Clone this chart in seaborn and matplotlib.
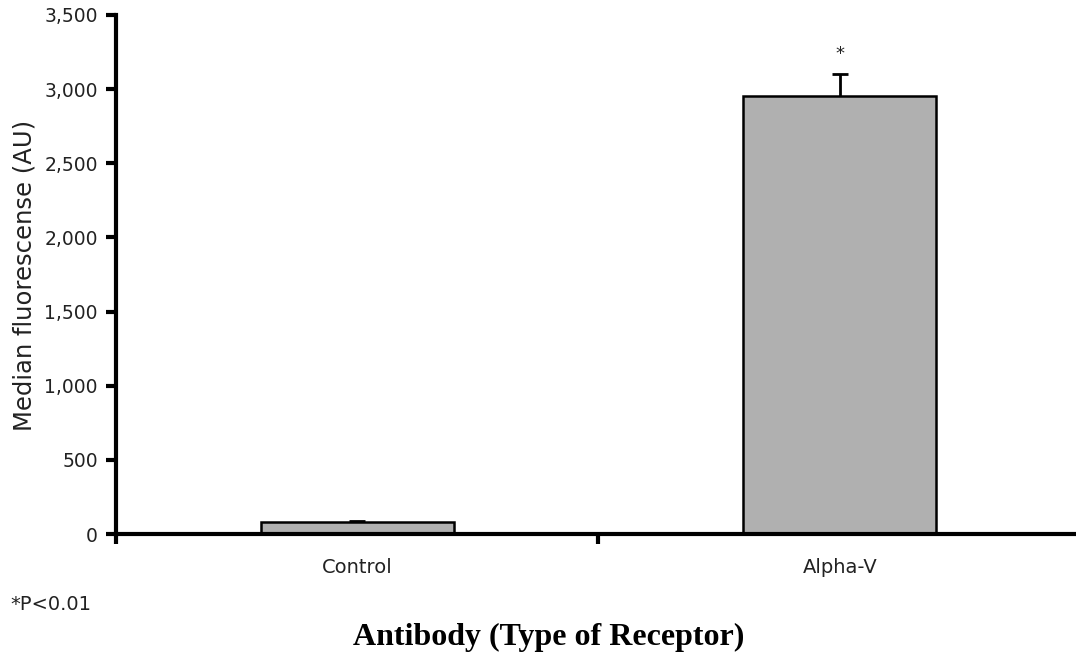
import matplotlib
matplotlib.use("Agg")
import matplotlib.pyplot as plt
import seaborn as sns
import pandas as pd
from matplotlib.ticker import FuncFormatter, FixedLocator

# Median fluorescence per antibody
antibodies = ["Control", "Alpha-V"]
median_fluorescence = [80, 2955]
sem_upper = [5, 150]
significance = ["", "*"]

df = pd.DataFrame({"Antibody": antibodies, "Fluorescence": median_fluorescence})

sns.set_style("white")
plt.rcParams["font.family"] = ["DejaVu Sans"]

fig = plt.figure(figsize=(10.76, 6.56), dpi=100)
ax = fig.add_axes([116 / 1076, 122 / 656, 965 / 1076, 519 / 656])

sns.barplot(data=df, x="Antibody", y="Fluorescence", color="#b0b0b0",
            edgecolor="black", linewidth=1.8, width=0.4, saturation=1,
            errorbar=None, ax=ax)

# Upper error bars only: stem from the bar top plus a cap at the end
xs = list(range(len(antibodies)))
tops = [v + e for v, e in zip(median_fluorescence, sem_upper)]
ax.errorbar(xs, median_fluorescence, yerr=[[0] * len(sem_upper), sem_upper],
            fmt="none", ecolor="black", elinewidth=2, capsize=0, zorder=5)
ax.plot(xs, tops, linestyle="none", marker="_", markersize=12,
        markeredgewidth=2, color="black", zorder=5)

for i, (t, s) in enumerate(zip(tops, significance)):
    if s:
        ax.text(i, t + 130, s, ha="center", va="center", fontsize=13,
                color="#222222")

ax.set_xlim(-0.5, 1.5)
ax.set_ylim(0, 3500)
ax.set_yticks(range(0, 3501, 500))
ax.yaxis.set_major_formatter(FuncFormatter(lambda v, p: f"{int(v):,}"))

ax.xaxis.set_minor_locator(FixedLocator([-0.5, 0.5, 1.5]))
ax.tick_params(axis="x", which="major", length=0, pad=17, labelsize=14,
               labelcolor="#222222")
ax.tick_params(axis="x", which="minor", bottom=True, length=7, width=3,
               direction="out", color="black")
ax.tick_params(axis="y", which="major", left=True, length=7, width=3,
               direction="out", pad=6, labelsize=13.5, labelcolor="#222222",
               color="black")

for side in ["top", "right"]:
    ax.spines[side].set_visible(False)
for side in ["left", "bottom"]:
    ax.spines[side].set_linewidth(3)
    ax.spines[side].set_color("black")

ax.set_xlabel("")
ax.set_ylabel("Median fluorescense (AU)", fontsize=17.5, color="#222222")
ax.yaxis.set_label_coords(-(116 - 24) / 965, (534 - 275) / 519)
ax.yaxis.label.set_va("center")

fig.text(10 / 1076, 1 - 604 / 656, "*P<0.01", fontsize=14, color="#222222",
         ha="left", va="center")
fig.text(549 / 1076, 1 - 637 / 656, "Antibody (Type of Receptor)",
         fontsize=23, fontweight="bold", family="Liberation Serif",
         ha="center", va="center", color="black")

fig.savefig("out.png", dpi=100)
